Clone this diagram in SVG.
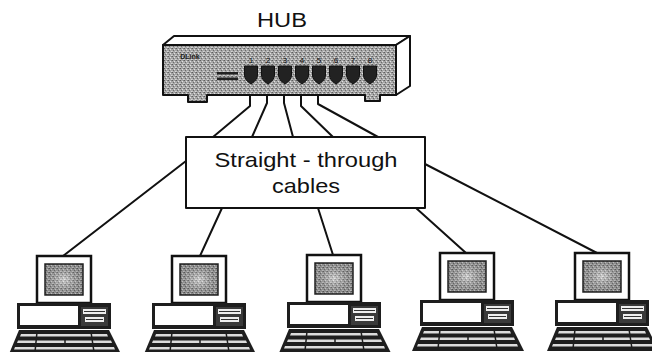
<svg xmlns="http://www.w3.org/2000/svg" xmlns:xlink="http://www.w3.org/1999/xlink" width="652" height="352" viewBox="0 0 652 352">
  <style>
    .label { font-family: "Liberation Sans", Arial, sans-serif; fill: #111; text-anchor: middle; }
    .wire { fill: none; stroke: #111; stroke-width: 2; stroke-linejoin: round; stroke-linecap: round; }
    .outline { stroke: #111; stroke-width: 2; stroke-linejoin: round; }
    .port { fill: #222; stroke: #111; stroke-width: 1; }
    .portnum { font-family: "Liberation Sans", Arial, sans-serif; font-size: 8px; fill: #111; text-anchor: middle; }
  </style>
  <defs>
    <!-- halftone grain used on the hub front and the monitor screens -->
    <pattern id="stipple" width="4" height="4" patternUnits="userSpaceOnUse">
      <rect width="4" height="4" fill="#a6a6a6"/>
      <rect x="0" y="0" width="1" height="1" fill="#5e5e5e"/>
      <rect x="2" y="1" width="1" height="1" fill="#e2e2e2"/>
      <rect x="1" y="2" width="1" height="1" fill="#6a6a6a"/>
      <rect x="3" y="3" width="1" height="1" fill="#d6d6d6"/>
      <rect x="3" y="0" width="1" height="1" fill="#808080"/>
      <rect x="0" y="3" width="1" height="1" fill="#c4c4c4"/>
    </pattern>
    <radialGradient id="glow" cx="0.5" cy="0.5" r="0.6">
      <stop offset="0" stop-color="#ffffff" stop-opacity="0.45"/>
      <stop offset="1" stop-color="#000000" stop-opacity="0.15"/>
    </radialGradient>
    <path id="rj45" d="M -6.5,0 H 6.5 V 9 Q 6.5 14 0 18 Q -6.5 14 -6.5 9 Z"/>

    <!-- desktop computer: monitor, system unit, keyboard; origin at monitor top-left -->
    <g id="computer">
      <rect x="0" y="0" width="54" height="47" fill="#fff" stroke="#111" stroke-width="2.5"/>
      <rect x="8" y="8" width="38" height="31" fill="url(#stipple)" stroke="#222" stroke-width="1.5"/>
      <rect x="8" y="8" width="38" height="31" fill="url(#glow)"/>
      <rect x="-20" y="47" width="94" height="26" fill="#1e1e1e"/>
      <rect x="-17" y="50" width="58" height="19" fill="#fff"/>
      <rect x="44" y="51" width="27" height="19" fill="#3a3a3a"/>
      <rect x="46" y="53" width="23" height="5" fill="#eee"/>
      <rect x="48" y="61" width="19" height="5" fill="#eee"/>
      <line x1="47" y1="55.5" x2="68" y2="55.5" stroke="#333" stroke-width="1"/>
      <line x1="49" y1="63.5" x2="66" y2="63.5" stroke="#333" stroke-width="1"/>
      <path d="M -18,74 H 72 L 84,98 H -28 Z" fill="#1e1e1e"/>
      <path d="M -16,78 H 70 L 71,80.5 H -17 Z" fill="#dcdcdc"/>
      <path d="M -19,84.5 H 74 L 75,87 H -20 Z" fill="#dcdcdc"/>
      <path d="M -22,91 H 77 L 78,93.5 H -23 Z" fill="#dcdcdc"/>
      <line x1="0" y1="76" x2="-2" y2="96" stroke="#1e1e1e" stroke-width="1.5"/>
      <line x1="28" y1="83" x2="28" y2="89" stroke="#1e1e1e" stroke-width="1.5"/>
      <line x1="54" y1="76" x2="57" y2="96" stroke="#1e1e1e" stroke-width="1.5"/>
    </g>
  </defs>

  <rect width="652" height="352" fill="#fff"/>

  <!-- connectors -->
  <g id="connectors">
    <!-- patch leads from hub ports 1-5 into the cable bundle -->
    <polyline class="wire" points="250,84 250,106 213,137"/>
    <polyline class="wire" points="267,84 267,103 252,137"/>
    <polyline class="wire" points="284,84 284,103 293,137"/>
    <polyline class="wire" points="301,84 301,106 333,137"/>
    <polyline class="wire" points="318,84 318,104 378,137"/>
    <!-- runs down to the workstations -->
    <line class="wire" x1="186" y1="161" x2="63" y2="256"/>
    <line class="wire" x1="222" y1="208" x2="200" y2="256"/>
    <line class="wire" x1="318" y1="208" x2="333" y2="255"/>
    <line class="wire" x1="416" y1="208" x2="466" y2="253"/>
    <line class="wire" x1="425" y1="164" x2="597" y2="253"/>
  </g>

  <!-- hub -->
  <g id="hub">
    <text class="label" x="282" y="27" font-size="20" textLength="50" lengthAdjust="spacingAndGlyphs">HUB</text>
    <path d="M 163,45 L 174,36 H 410 L 396,45 Z" fill="#fff" class="outline"/>
    <path d="M 396,45 L 410,36 V 86 L 396,95 Z" fill="#fff" class="outline"/>
    <path d="M 163,45 H 396 V 95 H 380 V 101 H 365 V 95 H 207 V 102 H 188 V 95 H 163 Z" fill="url(#stipple)" class="outline"/>
    <text x="190" y="59" font-family="'Liberation Sans', Arial, sans-serif" font-size="7" font-weight="bold" fill="#222" text-anchor="middle">DLink</text>
    <rect x="217" y="72" width="21" height="2.5" fill="#222"/>
    <rect x="217" y="77.5" width="21" height="2.5" fill="#222"/>
    <g>
      <text class="portnum" x="251" y="63">1</text>
      <text class="portnum" x="268" y="63">2</text>
      <text class="portnum" x="285" y="63">3</text>
      <text class="portnum" x="302" y="63">4</text>
      <text class="portnum" x="319" y="63">5</text>
      <text class="portnum" x="336" y="63">6</text>
      <text class="portnum" x="353" y="63">7</text>
      <text class="portnum" x="370" y="63">8</text>
      <use href="#rj45" class="port" x="251" y="66"/>
      <use href="#rj45" class="port" x="268" y="66"/>
      <use href="#rj45" class="port" x="285" y="66"/>
      <use href="#rj45" class="port" x="302" y="66"/>
      <use href="#rj45" class="port" x="319" y="66"/>
      <use href="#rj45" class="port" x="336" y="66"/>
      <use href="#rj45" class="port" x="353" y="66"/>
      <use href="#rj45" class="port" x="370" y="66"/>
    </g>
  </g>

  <!-- cable label box -->
  <g id="cables">
    <rect x="186" y="137" width="239" height="71" fill="#fff" class="outline"/>
    <text class="label" x="306" y="167" font-size="21" textLength="183" lengthAdjust="spacingAndGlyphs">Straight - through</text>
    <text class="label" x="306" y="193" font-size="21" textLength="68" lengthAdjust="spacingAndGlyphs">cables</text>
  </g>

  <!-- workstations -->
  <g id="pc1"><use href="#computer" x="37" y="256"/></g>
  <g id="pc2"><use href="#computer" x="172" y="256"/></g>
  <g id="pc3"><use href="#computer" x="307" y="255"/></g>
  <g id="pc4"><use href="#computer" x="440" y="253"/></g>
  <g id="pc5"><use href="#computer" x="575" y="253"/></g>
</svg>
